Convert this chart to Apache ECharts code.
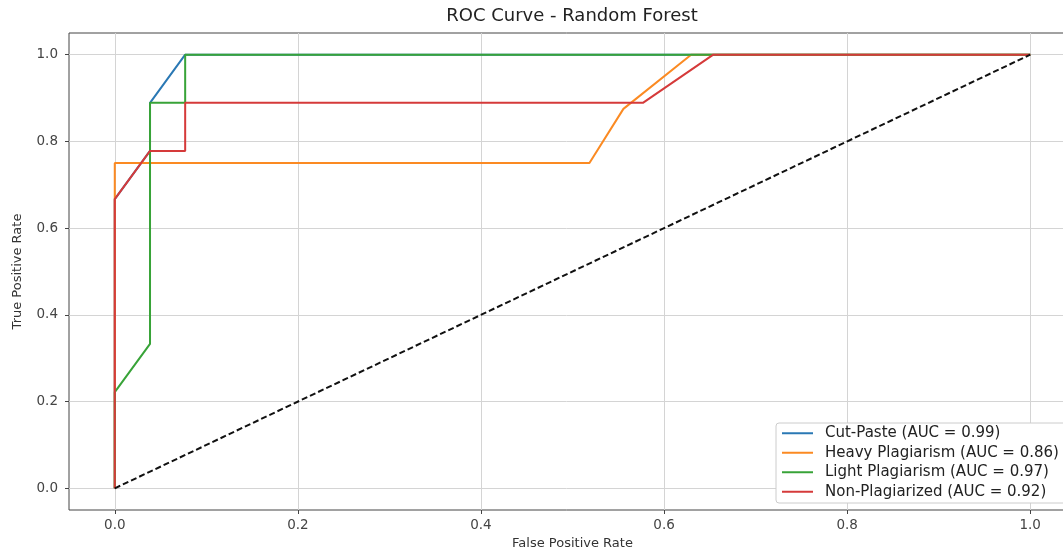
<!DOCTYPE html>
<html>
<head>
<meta charset="utf-8">
<script src="https://cdn.jsdelivr.net/npm/echarts@6/dist/echarts.min.js"></script>
<style>
  html, body { margin: 0; padding: 0; background: #fff; }
  #chart { width: 1063px; height: 550px; }
</style>
</head>
<body>
<div id="chart"></div>
<script>
// ROC points (fpr / tpr pairs per class)
const cutPasteFpr = [0, 0, 0.0385, 0.0385, 0.0769, 1]
const cutPasteTpr = [0, 0.667, 0.778, 0.889, 1, 1]

const heavyFpr = [0, 0, 0.5185, 0.5556, 0.6296, 1]
const heavyTpr = [0, 0.75, 0.75, 0.875, 1, 1]

const lightFpr = [0, 0, 0.0385, 0.0385, 0.0769, 0.0769, 1]
const lightTpr = [0, 0.222, 0.333, 0.889, 0.889, 1, 1]

const nonFpr = [0, 0, 0.0385, 0.0769, 0.0769, 0.5769, 0.6538, 1]
const nonTpr = [0, 0.667, 0.778, 0.778, 0.889, 0.889, 1, 1]

const chanceLine = [[0, 0], [1, 1]]

const seriesNames = [
  'Cut-Paste (AUC = 0.99)',
  'Heavy Plagiarism (AUC = 0.86)',
  'Light Plagiarism (AUC = 0.97)',
  'Non-Plagiarized (AUC = 0.92)',
]
const tickValues = [0, 0.2, 0.4, 0.6, 0.8, 1.0]

const colors = ['#2a78b4', '#fb8a22', '#38a338', '#d53a3a']
const font = 'DejaVu Sans'

function pairs(xs, ys) {
  return xs.map((x, i) => [x, ys[i]])
}

const curves = [
  pairs(cutPasteFpr, cutPasteTpr),
  pairs(heavyFpr, heavyTpr),
  pairs(lightFpr, lightTpr),
  pairs(nonFpr, nonTpr),
]

function makeAxis(name, gap, labelMargin) {
  return {
    type: 'value',
    min: -0.05,
    max: 1.05,
    name,
    nameLocation: 'middle',
    nameGap: gap,
    nameTextStyle: { fontFamily: font, fontSize: 13, color: '#333' },
    axisLine: { show: false, onZero: false },
    axisTick: {
      show: true,
      inside: false,
      length: 4,
      customValues: tickValues,
      lineStyle: { color: '#444' },
    },
    axisLabel: {
      customValues: tickValues,
      fontFamily: font,
      fontSize: 13.5,
      color: '#444',
      margin: labelMargin,
      formatter: v => v.toFixed(1),
    },
    splitLine: { show: true, lineStyle: { color: '#d4d4d4', width: 1 } },
  }
}

const chart = echarts.init(document.getElementById('chart'))

const series = curves.map((data, i) => ({
  name: seriesNames[i],
  type: 'line',
  data,
  symbol: 'none',
  color: colors[i],
  lineStyle: { width: 2, color: colors[i] },
}))

// diagonal reference line
series.push({
  name: 'chance',
  type: 'line',
  data: chanceLine,
  symbol: 'none',
  color: '#111',
  lineStyle: { width: 2, type: [6, 3], color: '#111' },
})

chart.setOption({
  animation: false,
  title: {
    text: 'ROC Curve - Random Forest',
    left: 567,
    top: 2,
    textAlign: 'center',
    textStyle: { fontFamily: font, fontSize: 18, fontWeight: 'normal', color: '#222' },
  },
  grid: {
    left: 69,
    top: 33,
    width: 1007,
    height: 477,
    outerBoundsMode: 'none',
    containLabel: false,
    show: true,
    borderColor: '#444',
    borderWidth: 1,
    backgroundColor: '#fff',
  },
  legend: {
    data: seriesNames,
    orient: 'vertical',
    left: 776,
    top: 423,
    icon: 'rect',
    itemWidth: 31,
    itemHeight: 2,
    itemGap: 3,
    padding: [2, 14, 3, 6],
    backgroundColor: '#fff',
    borderColor: '#cccccc',
    borderWidth: 1,
    borderRadius: 3,
    textStyle: {
      fontFamily: font,
      fontSize: 15,
      lineHeight: 16.5,
      color: '#222',
      padding: [0, 0, 0, 7],
    },
  },
  xAxis: makeAxis('False Positive Rate', 25, 8),
  yAxis: makeAxis('True Positive Rate', 45, 11),
  series,
})
</script>
</body>
</html>
